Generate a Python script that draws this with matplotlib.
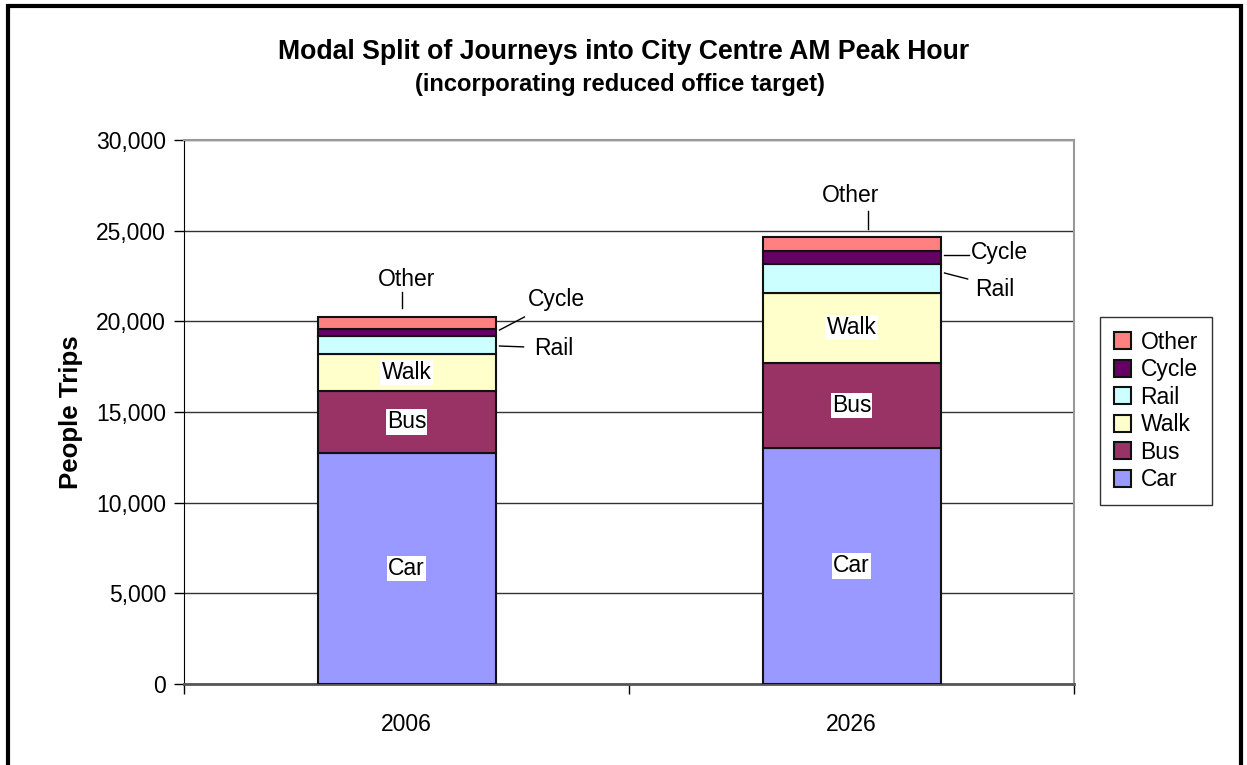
import matplotlib.pyplot as plt
from matplotlib.patches import Rectangle
import numpy as np

plt.rcParams['font.family'] = ['Liberation Sans', 'DejaVu Sans']

years = ['2006', '2026']
modes = ['Car', 'Bus', 'Walk', 'Rail', 'Cycle', 'Other']
car = [12740, 13030]
bus = [3420, 4690]
walk = [2060, 3860]
rail = [960, 1580]
cycle = [400, 735]
other = [660, 770]
colors = ['#9999FF', '#993366', '#FFFFCC', '#CCFFFF', '#660066', '#FF8080']

series = [car, bus, walk, rail, cycle, other]
FS = 16.5

fig = plt.figure(figsize=(12.47, 7.65), dpi=100)
ax = fig.add_axes([184/1247, 1 - 684/765, (1074 - 184)/1247, (684 - 140)/765])

# outer chart frame
fig.patches.append(Rectangle((7.5/1247, -0.05), (1241 - 7.5)/1247, 1.05 - 6/765,
                             transform=fig.transFigure, fill=False, lw=3, ec='black'))

x = np.arange(len(years))
bw = 0.4
bottom = np.zeros(len(years))
handles = []
for name, vals, c in zip(modes, series, colors):
    b = ax.bar(x, vals, width=bw, bottom=bottom, color=c, edgecolor='#111111',
               linewidth=1.5, label=name, zorder=3)
    handles.append(b)
    bottom = bottom + np.array(vals)

# inner labels with white box
cum = np.cumsum(np.array(series), axis=0)
for i in range(len(years)):
    for k in range(3):
        lo = cum[k - 1][i] if k > 0 else 0
        mid = (lo + cum[k][i]) / 2
        ax.text(x[i], mid, modes[k], ha='center', va='center', fontsize=FS,
                bbox=dict(boxstyle='square,pad=0.05', fc='white', ec='none'), zorder=5)

# outside labels: (label, bar, line start dx/dy, line end dx/dy, text dx/dy) relative to bar top
tot = cum[-1]
edge = bw / 2
callouts = [
    ('Other', 0, (-0.009, 500), (-0.009, 1380), (0.0, 2050)),
    ('Cycle', 0, (edge + 0.009, -720), (edge + 0.065, 0), (0.337, 990)),
    ('Rail', 0, (edge + 0.009, -1600), (edge + 0.063, -1650), (0.33, -1760)),
    ('Other', 1, (0.038, 430), (0.038, 1420), (-0.002, 2250)),
    ('Cycle', 1, (edge + 0.007, -1010), (edge + 0.063, -1010), (0.333, -850)),
    ('Rail', 1, (edge + 0.009, -2000), (edge + 0.061, -2330), (0.321, -2890)),
]
for lab, i, p0, p1, pt in callouts:
    top = tot[i]
    ax.plot([x[i] + p0[0], x[i] + p1[0]], [top + p0[1], top + p1[1]],
            color='black', lw=1, zorder=4)
    ax.text(x[i] + pt[0], top + pt[1], lab, ha='center', va='center', fontsize=FS)

ax.set_xlim(-0.5, 1.5)
ax.set_ylim(0, 30000)
ax.set_yticks(np.arange(0, 30001, 5000))
ax.set_yticklabels([f'{v:,}' for v in range(0, 30001, 5000)], fontsize=FS)
ax.set_xticks(x)
ax.set_xticklabels(years, fontsize=FS)
ax.tick_params(axis='x', length=0, pad=21)
ax.set_xticks([-0.5, 0.5, 1.5], minor=True)
ax.tick_params(axis='x', which='minor', length=7, width=1, direction='out', color='black')
ax.tick_params(axis='y', length=7, width=1, direction='out', color='black', pad=6)
ax.yaxis.grid(True, color='#333333', lw=1, zorder=0)
ax.set_axisbelow(True)

ax.spines['left'].set_color('black')
ax.spines['bottom'].set_color('#555555')
ax.spines['bottom'].set_linewidth(2)
ax.spines['top'].set_color('#999999')
ax.spines['right'].set_color('#999999')
ax.spines['top'].set_linewidth(1.5)
ax.spines['right'].set_linewidth(1.5)

ax.set_ylabel('People Trips', fontsize=18.6, fontweight='bold', labelpad=9)

fig.text(624/1247, 1 - 52/765, 'Modal Split of Journeys into City Centre AM Peak Hour',
         ha='center', va='center', fontsize=19.2, fontweight='bold')
fig.text(620/1247, 1 - 85/765, '(incorporating reduced office target)',
         ha='center', va='center', fontsize=17.1, fontweight='bold')

leg = fig.legend(handles[::-1], modes[::-1], loc='center',
                 bbox_to_anchor=(1156/1247, 1 - 411/765), fontsize=FS,
                 frameon=True, fancybox=False, edgecolor='black', handlelength=0.75,
                 handleheight=0.75, handletextpad=0.4, labelspacing=0.2,
                 borderpad=0.6, borderaxespad=0)
leg.get_frame().set_linewidth(1)

fig.savefig('out.png', dpi=100)
